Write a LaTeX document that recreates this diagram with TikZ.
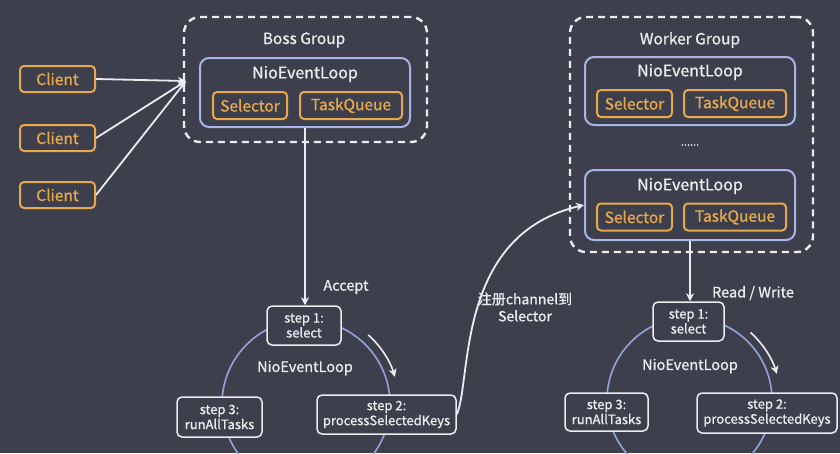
\documentclass[tikz,border=0pt]{standalone}
\usepackage{fontspec}
\setmainfont{Noto Sans CJK SC}[UprightFeatures={FakeBold=0.8}]
\usetikzlibrary{arrows.meta}
\definecolor{bg}{RGB}{61,64,76}
\definecolor{orng}{RGB}{232,168,76}
\definecolor{blu}{RGB}{168,181,230}
\definecolor{circ}{RGB}{150,162,222}
\definecolor{wht}{RGB}{236,236,240}
\tikzset{
  grp/.style={draw=wht, line width=2.4pt, dash pattern=on 7pt off 5pt, rounded corners=16pt, inner sep=0pt},
  nel/.style={draw=blu, line width=2pt, rounded corners=9pt, inner sep=0pt},
  obox/.style={draw=orng, line width=2pt, rounded corners=4pt, text=orng, inner sep=0pt, font=\fontsize{15.5}{17}\selectfont},
  stepbox/.style={draw=wht, line width=1.5pt, rounded corners=5pt, fill=bg, text=wht, inner sep=0pt, align=center, font=\fontsize{13}{15}\selectfont},
  lbl/.style={text=wht, inner sep=0pt, font=\fontsize{15.5}{17}\selectfont},
  nlbl/.style={text=wht, inner sep=0pt, font=\fontsize{16}{18}\selectfont},
  arr/.style={draw=wht, line width=1.8pt, -{Stealth[length=8pt,width=8pt,inset=2.5pt]}},
  loopc/.style={draw=circ, line width=1.6pt},
}
\begin{document}
\begin{tikzpicture}[x=1pt,y=-1pt]
\useasboundingbox[fill=bg] (0,0) rectangle (840,453);

% clients
\node[obox, minimum width=75pt, minimum height=26pt] (c1) at (57.5,79) {Client};
\node[obox, minimum width=75pt, minimum height=26pt] (c2) at (57.5,138) {Client};
\node[obox, minimum width=75pt, minimum height=26pt] (c3) at (57.5,195) {Client};

% boss group
\node[grp, minimum width=243pt, minimum height=125pt] (boss) at (305.5,79.5) {};
\node[lbl] (bosslbl) at (304,40) {Boss Group};
\node[nel, minimum width=210pt, minimum height=69pt] (bnel) at (305,92.5) {};
\node[nlbl] (bnellbl) at (305,74) {NioEventLoop};
\node[obox, minimum width=74pt, minimum height=27pt] (bsel) at (250,105.5) {Selector};
\node[obox, minimum width=102pt, minimum height=27pt] (btq) at (351,105.5) {TaskQueue};

\coordinate (bin) at (186,81);
\draw[arr] (c1.east) -- (bin);
\draw[arr] (c2.east) -- (bin);
\draw[arr] (c3.east) -- (bin);

% worker group
\node[grp, minimum width=243pt, minimum height=235pt] (worker) at (691.5,134.5) {};
\node[lbl] (wlbl) at (690,40) {Worker Group};
\node[nel, minimum width=210pt, minimum height=68pt] (wnel1) at (690,91) {};
\node[nlbl] (wnel1lbl) at (690,72) {NioEventLoop};
\node[obox, minimum width=75pt, minimum height=27pt] (wsel1) at (634.5,103.5) {Selector};
\node[obox, minimum width=102pt, minimum height=27pt] (wtq1) at (735,103.5) {TaskQueue};
\node[lbl, font=\fontsize{11}{13}\selectfont] (dots) at (690,145) {......};
\node[nel, minimum width=210pt, minimum height=70pt] (wnel2) at (690,205) {};
\node[nlbl] (wnel2lbl) at (690,186) {NioEventLoop};
\node[obox, minimum width=75pt, minimum height=27pt] (wsel2) at (634.5,217) {Selector};
\node[obox, minimum width=102pt, minimum height=27pt] (wtq2) at (735,217) {TaskQueue};

% left loop
\node[loopc, circle, minimum size=168pt, inner sep=0pt] (lc) at (306,404) {};
\node[nlbl, font=\fontsize{14.5}{16}\selectfont] (lclbl) at (305,368) {NioEventLoop};
\node[stepbox, minimum width=74pt, minimum height=39pt] (ls1) at (304,325.5) {step 1:\\select};
\node[stepbox, minimum width=139pt, minimum height=39pt] (ls2) at (386.5,414.5) {step 2:\\processSelectedKeys};
\node[stepbox, minimum width=85pt, minimum height=40pt] (ls3) at (219.5,417) {step 3:\\runAllTasks};
\draw[arr, line width=1.6pt] ([shift={(-48:93)}]lc.center) arc[start angle=-48, end angle=-17, radius=93];
\node[lbl, font=\fontsize{14.5}{16}\selectfont] (acc) at (346,287) {Accept};
\draw[arr] (bnel.south) -- (bnel.south |- ls1.north);

% right loop
\node[loopc, circle, minimum size=165pt, inner sep=0pt] (rc) at (689.5,400) {};
\node[nlbl, font=\fontsize{14.5}{16}\selectfont] (rclbl) at (690,366) {NioEventLoop};
\node[stepbox, minimum width=71pt, minimum height=39pt] (rs1) at (688.5,321.5) {step 1:\\select};
\node[stepbox, minimum width=140pt, minimum height=40pt] (rs2) at (767,413) {step 2:\\processSelectedKeys};
\node[stepbox, minimum width=83pt, minimum height=38pt] (rs3) at (606.5,412) {step 3:\\runAllTasks};
\draw[arr, line width=1.6pt] ([shift={(-48:91)}]rc.center) arc[start angle=-48, end angle=-17, radius=92];
\node[lbl, font=\fontsize{14.5}{16}\selectfont] (rw) at (753,293) {Read / Write};
\draw[arr] (wnel2.south) -- (wnel2.south |- rs1.north);

% register curve
\draw[arr] (ls2.east) .. controls (472,380) and (455,235) .. (wnel2.west);
\node[lbl, align=center, font=\fontsize{14}{17}\selectfont] (reg) at (525,307) {注册channel到\\Selector};
\end{tikzpicture}
\end{document}
